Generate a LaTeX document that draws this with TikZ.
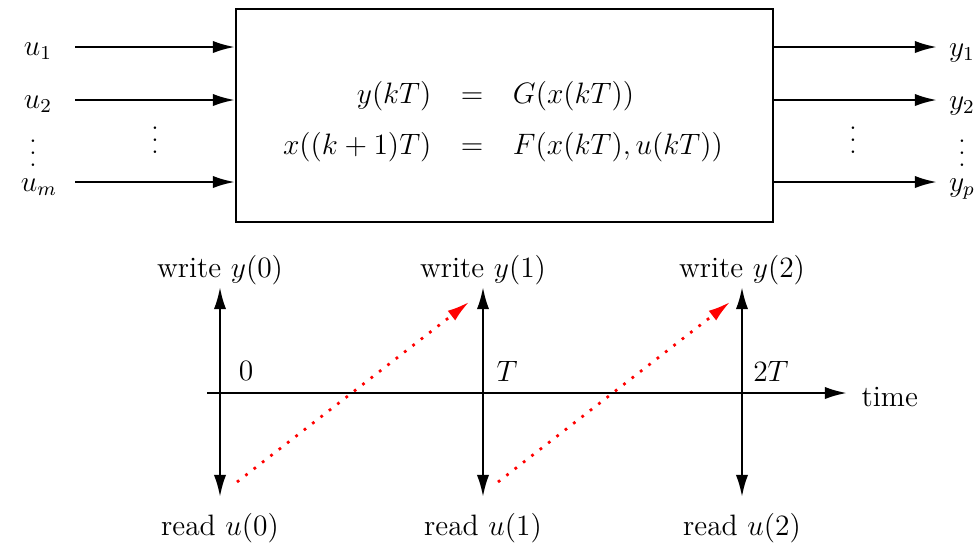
\documentclass[tikz,border=0pt]{standalone}
\usetikzlibrary{arrows.meta}
\newcommand\myvdots{\vbox{\baselineskip4.8pt\lineskiplimit0pt\hbox{.}\hbox{.}\hbox{.}}}
\begin{document}
\begin{tikzpicture}[x=0.4065pt,y=-0.4065pt,
  every node/.style={font=\large},
  tip/.tip={Latex[length=9pt,width=5pt]},
  ar/.style={line width=1pt,-tip},
  dar/.style={line width=1pt,tip-tip},
  rar/.style={red,line width=1.1pt,dash pattern=on 1.1pt off 3.2pt,-tip},
  lbl/.style={inner sep=0pt},
  dts/.style={inner sep=0pt,font=\normalsize}]
\useasboundingbox (0,0) rectangle (978,546);
% system box
\node[draw,line width=0.8pt,minimum width=537*0.4065pt,minimum height=213*0.4065pt,inner sep=0pt,anchor=north west] (sys) at (235,8) {};
\node (eq) at (503,122) {$\begin{array}{r@{\quad=\quad}l} y(kT) & G(x(kT))\\[7pt] x((k+1)T) & F(x(kT),u(kT))\end{array}$};
% inputs
\node[lbl] (u1) at (38,51) {$u_1$};
\node[lbl] (u2) at (38,104) {$u_2$};
\node[dts] (udots) at (33,153) {\myvdots};
\node[lbl] (um) at (39,187) {$u_m$};
\node[dts] (midl) at (155,140) {\myvdots};
\coordinate (i1) at (75,47); \coordinate (i2) at (75,100); \coordinate (im) at (75,182);
\draw[ar] (i1) -- (sys.west |- i1);
\draw[ar] (i2) -- (sys.west |- i2);
\draw[ar] (im) -- (sys.west |- im);
% outputs
\node[lbl] (y1) at (962,53) {$y_1$};
\node[lbl] (y2) at (962,106) {$y_2$};
\node[dts] (ydots) at (962,153) {\myvdots};
\node[lbl] (yp) at (962,189) {$y_p$};
\node[dts] (midr) at (853,140) {\myvdots};
\coordinate (o1) at (937,47); \coordinate (o2) at (937,100); \coordinate (om) at (937,182);
\draw[ar] (sys.east |- o1) -- (o1);
\draw[ar] (sys.east |- o2) -- (o2);
\draw[ar] (sys.east |- om) -- (om);
% timeline
\coordinate (t0) at (207,393);
\coordinate (t1) at (847,393);
\draw[ar] (t0) -- (t1);
\node[anchor=west] (time) at (853,397) {time};
\foreach \x/\n/\k in {220/0/0,483/1/1,742/2/2}{
  \coordinate (top\n) at (\x,287);
  \coordinate (bot\n) at (\x,497);
  \draw[dar] (bot\n) -- (top\n);
  \node (w\n) at (\x,270) {write $y(\k)$};
  \node (r\n) at (\x,528) {read $u(\k)$};
}
\node (l0) at (246,371) {$0$};
\node (l1) at (507,371) {$T$};
\node (l2) at (771,371) {$2T$};
\coordinate (s0) at (237,482); \coordinate (e0) at (469,302);
\coordinate (s1) at (498,482); \coordinate (e1) at (730,302);
\draw[rar] (s0) -- (e0);
\draw[rar] (s1) -- (e1);
\end{tikzpicture}
\end{document}
